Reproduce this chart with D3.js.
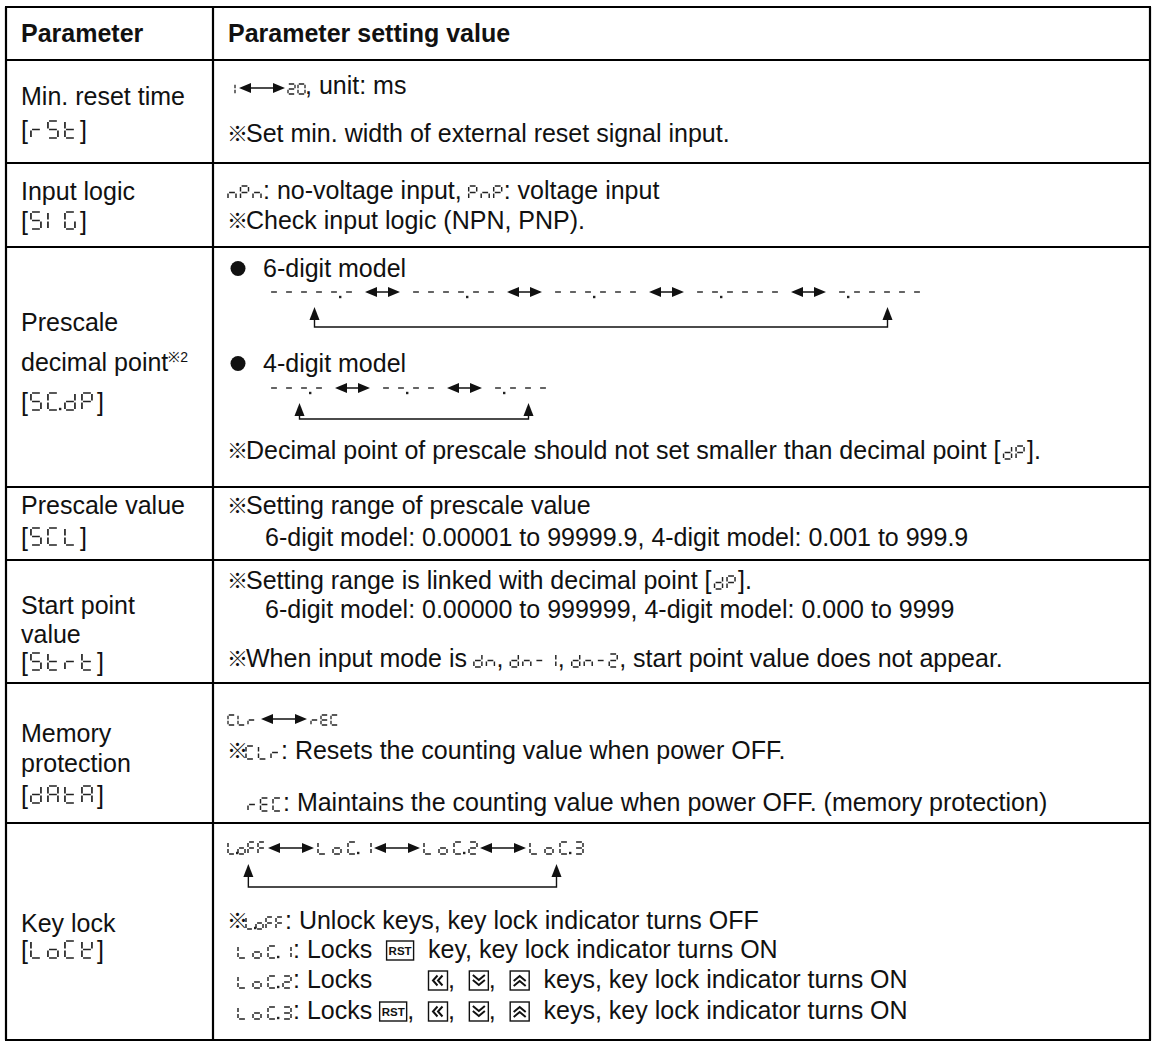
<!DOCTYPE html>
<html><head><meta charset="utf-8">
<script src="https://cdn.jsdelivr.net/npm/d3@7"></script>
<style>body{margin:0;background:#fff}</style>
</head><body><svg id="c" width="1156" height="1044"></svg>
<script>
// ---------------- data ----------------
const headers = ["Parameter", "Parameter setting value"];
const paramNames = [["Min. reset time"],["Input logic"],["Prescale","decimal point"],["Prescale value"],["Start point","value"],["Memory","protection"],["Key lock"]];
const paramNoteMarks = ["","","※2","","","",""];
const paramCodes = ["rSt","SIG","SC.dP","SCL","Strt","dAtA","LoCK"];
const dp6 = ["-----.-","----.--","---.---","--.----","-.-----"];
const dp4 = ["---.-","--.--","-.---"];

const S=(s,z)=>({seg:s,sz:z}), A=(n)=>({arrow:n}), G=(n)=>({gap:n}), K=(k,slot)=>({key:k,slot}), BUL={bullet:true};
const settingLines = [
  [ [S('1','S'),G(4),A(46),G(3),S('20','S'),', unit: ms'],
    ['※Set min. width of external reset signal input.'] ],
  [ [S('nPn','M'),G(2),': no-voltage input, ',S('PnP','M'),G(2),': voltage input'],
    ['※Check input logic (NPN, PNP).'] ],
  [ [BUL,'6-digit model'],
    {dash:dp6},
    [BUL,'4-digit model'],
    {dash:dp4},
    ['※Decimal point of prescale should not set smaller than decimal point [',G(3),S('dP','M'),G(3),'].'] ],
  [ ['※Setting range of prescale value'],
    ['6-digit model: 0.00001 to 99999.9, 4-digit model: 0.001 to 999.9'] ],
  [ ['※Setting range is linked with decimal point [',G(3),S('dP','M'),G(3),'].'],
    ['6-digit model: 0.00000 to 999999, 4-digit model: 0.000 to 9999'],
    ['※When input mode is ',S('dn','M'),G(2),', ',S('dn-1','M'),G(2),', ',S('dn-2','M'),G(2),', start point value does not appear.'] ],
  [ [S('CLr','S'),G(6),A(46),G(4),S('rEC','S')],
    ['※',S('CLr','M'),G(2),': Resets the counting value when power OFF.'],
    [S('rEC','M'),G(2),': Maintains the counting value when power OFF. (memory protection)'] ],
  [ {chain:[S('L.oFF','C'),G(3),A(46),G(4),S('LoC.1','W'),G(3),A(46),G(4),S('LoC.2','W'),G(3),A(46),G(4),S('LoC.3','W')]},
    ['※',S('L.oFF','C'),G(2),': Unlock keys, key lock indicator turns OFF'],
    [S('LoC.1','W'),G(2),': Locks  ',K('RST','k0'),'  key, key lock indicator turns ON'],
    [S('LoC.2','W'),G(2),': Locks ',K('L','k1'),',  ',K('D','k2'),',  ',K('U','k3'),'  keys, key lock indicator turns ON'],
    [S('LoC.3','W'),G(2),': Locks ',K('RST'),',  ',K('L','k1'),',  ',K('D','k2'),',  ',K('U','k3'),'  keys, key lock indicator turns ON'] ]
];

// ---------------- layout ----------------
const LAY = {
  x0:6, x1:1150, xd:213,
  rows:[7,60,163,247,487,560,683,823,1040],
  leftX:21, rightX:228, fs:25,
  headBase:42,
  leftBase:[[105,139],[200,230],[331,371,411],[514,546],[614,643,671],[742,772,804],[932,959]],
  rightPos:[
    [{x:228,b:94},{x:228,b:142}],
    [{x:228,b:199},{x:228,b:229}],
    [{x:228,b:277},{x:270,b:298,tip:307,line:327},{x:228,b:372},{x:270,b:394,tip:403,line:419},{x:228,b:459}],
    [{x:228,b:514},{x:265,b:546}],
    [{x:228,b:589},{x:265,b:618},{x:228,b:667}],
    [{x:228,b:725},{x:228,b:759},{x:248,b:811}],
    [{x:228,b:854,tip:864,line:887},{x:228,b:929},{x:238,b:958},{x:238,b:988},{x:238,b:1019}]
  ]
};
const SZ = {
  B:{h:17,w:10,pitch:17,sw:1.7},
  M:{h:13,w:8,pitch:12.5,sw:1.45},
  S:{h:10,w:7,pitch:10,sw:1.3},
  W:{h:12,w:8,pitch:15,sw:1.45},
  C:{h:12,w:7,pitch:10,sw:1.45},
  D:{h:12,w:8,pitch:15,sw:1.4}
};
const FONT = '"Liberation Sans", Arial, sans-serif';
const MARKFONT = '"Noto Sans CJK JP", "DejaVu Sans", sans-serif';
const SEGS = {'0':'abcdef','1':'bc','2':'abged','3':'abgcd','5':'afgcd','S':'afgcd','r':'eg','t':'fedg','I':'ef',
  'G':'afedc','n':'ceg','P':'abfge','C':'afed','d':'bcdeg','A':'abcefg','L':'fed','E':'afged','o':'cdeg','F':'afge','K':'bdefg','-':'g'};
const SEGPTS = {a:[[0,0],[1,0]],b:[[1,0],[1,.5]],c:[[1,.5],[1,1]],d:[[0,1],[1,1]],e:[[0,.5],[0,1]],f:[[0,0],[0,.5]],g:[[0,.5],[1,.5]]};

const svg = d3.select('#c');
const ink = '#111', segInk = '#222';
const slots = {};

function txt(g, s, x, y, o={}) {
  return g.append('text').attr('x',x).attr('y',y).attr('font-family',o.font||FONT)
    .attr('font-size',o.fs||LAY.fs).attr('font-weight',o.bold?'bold':'normal')
    .attr('fill',ink).style('white-space','pre').text(s);
}
function drawMark(g, x, base) {
  txt(g, '※', x - 1, base - 1, {fs:21, font:MARKFONT});
  return x + 18;
}
function drawSeg(g, str, x, base, sz) {
  const gg = g.append('g').attr('class','seg');
  gg.append('title').text(str);
  let cx = x, prev = null, end = x;
  const gap = sz.h > 10 ? 1.1 : 0.8;
  for (const ch of str) {
    if (ch === '.') {
      if (prev !== null) gg.append('rect').attr('x',prev+sz.w+1).attr('y',base-2.2).attr('width',2.4).attr('height',2.4).attr('fill',segInk);
      continue;
    }
    if (ch !== ' ') {
      const segs = SEGS[ch] || '';
      const d = segs.split('').map(s => {
        const [[ax,ay],[bx,by]] = SEGPTS[s];
        let x1 = cx+ax*sz.w, y1 = base-sz.h+ay*sz.h, x2 = cx+bx*sz.w, y2 = base-sz.h+by*sz.h;
        if (y1 === y2) { x1 += gap; x2 -= gap; } else { y1 += gap; y2 -= gap; }
        return `M${x1},${y1}L${x2},${y2}`;
      }).join('');
      gg.append('path').attr('d',d).attr('stroke',segInk).attr('stroke-width',sz.sw).attr('fill','none');
    }
    prev = cx; end = cx + sz.w; cx += sz.pitch;
  }
  return end;
}
function drawArrow(g, x, y, len, head=12, hh=5, sw=1.5) {
  g.append('path').attr('d',`M${x+head-1},${y}L${x+len-head+1},${y}`).attr('stroke',ink).attr('stroke-width',sw);
  g.append('path').attr('d',`M${x},${y}L${x+head},${y-hh}L${x+head},${y+hh}Z M${x+len},${y}L${x+len-head},${y-hh}L${x+len-head},${y+hh}Z`).attr('fill',ink);
  return x+len;
}
function drawKey(g, k, x, base) {
  const h = 19, w = k==='RST' ? 27 : 19, y = base-17;
  const gg = g.append('g');
  gg.append('rect').attr('x',x+0.5).attr('y',y).attr('width',w).attr('height',h).attr('fill','none').attr('stroke',ink).attr('stroke-width',1.4);
  if (k==='RST') {
    gg.append('text').attr('x',x+0.5+w/2).attr('y',y+14).attr('text-anchor','middle').attr('font-family',FONT)
      .attr('font-size',11.5).attr('font-weight','bold').attr('fill',ink).text('RST');
  } else {
    const cx = x+0.5+w/2, cy = y+h/2;
    let d;
    if (k==='L') d = `M${cx-0.5},${cy-5}L${cx-5},${cy}L${cx-0.5},${cy+5}M${cx+4.5},${cy-5}L${cx},${cy}L${cx+4.5},${cy+5}`;
    if (k==='D') d = `M${cx-6},${cy-5.5}L${cx},${cy-0.5}L${cx+6},${cy-5.5}M${cx-6},${cy-0.5}L${cx},${cy+4.5}L${cx+6},${cy-0.5}`;
    if (k==='U') d = `M${cx-6},${cy+5.5}L${cx},${cy+0.5}L${cx+6},${cy+5.5}M${cx-6},${cy+0.5}L${cx},${cy-4.5}L${cx+6},${cy+0.5}`;
    gg.append('path').attr('d',d).attr('stroke',ink).attr('stroke-width',2).attr('fill','none');
  }
  return x+w+1;
}
function drawTokens(g, tokens, x, base) {
  let cx = x; const ext = [];
  tokens.forEach(tk => {
    const start = cx;
    if (typeof tk === 'string') {
      let s = tk;
      if (s.startsWith('※')) { cx = drawMark(g, cx, base); s = s.slice(1); }
      if (s.length) { const t = txt(g, s, cx, base); cx += t.node().getComputedTextLength(); }
    } else if (tk.seg) { cx = drawSeg(g, tk.seg, cx, base, SZ[tk.sz]); ext.push([start,cx]); }
    else if (tk.arrow) { cx = drawArrow(g, cx, base-6, tk.arrow); }
    else if (tk.gap) { cx += tk.gap; }
    else if (tk.key) {
      if (tk.slot) { if (slots[tk.slot] !== undefined) cx = Math.max(cx, slots[tk.slot]); else slots[tk.slot] = cx; }
      cx = drawKey(g, tk.key, cx, base);
    }
    else if (tk.bullet) {
      g.append('circle').attr('cx',cx+10).attr('cy',base-8.5).attr('r',7.5).attr('fill',ink);
      cx += 35;
    }
  });
  return ext;
}
function drawBracket(g, xa, xb, tip, line) {
  g.append('path').attr('d',`M${xa},${tip+10}L${xa},${line}L${xb},${line}L${xb},${tip+10}`)
    .attr('stroke',ink).attr('stroke-width',1.4).attr('fill','none');
  [xa,xb].forEach(xx => g.append('path').attr('d',`M${xx},${tip}L${xx-5},${tip+13}L${xx+5},${tip+13}Z`).attr('fill',ink));
}
function drawDashRow(g, groups, pos) {
  let cx = pos.x; const ext = [];
  groups.forEach((grp,i) => {
    const s = cx;
    cx = drawSeg(g, grp, cx, pos.b, SZ.D);
    ext.push([s,cx]);
    if (i < groups.length-1) { cx += 12; cx = drawArrow(g, cx, pos.b-6, 35); cx += 12; }
  });
  const a = ext[0], b = ext[ext.length-1];
  drawBracket(g, (a[0]+a[1])/2 + 3, (b[0]+b[1])/2 + 8, pos.tip, pos.line);
}

// ---------------- table frame ----------------
const frame = svg.append('g');
frame.selectAll('line.h').data(LAY.rows).join('line').attr('class','h')
  .attr('x1',LAY.x0-1).attr('x2',LAY.x1+1).attr('y1',d=>d).attr('y2',d=>d)
  .attr('stroke','#000').attr('stroke-width',2.2);
frame.selectAll('line.v').data([LAY.x0,LAY.xd,LAY.x1]).join('line').attr('class','v')
  .attr('x1',d=>d).attr('x2',d=>d).attr('y1',LAY.rows[0]).attr('y2',LAY.rows[LAY.rows.length-1])
  .attr('stroke','#000').attr('stroke-width',2.2);

// header
svg.append('g').selectAll('text').data(headers).join('text')
  .attr('x',(d,i)=> i===0 ? LAY.leftX : LAY.rightX).attr('y',LAY.headBase)
  .attr('font-family',FONT).attr('font-size',LAY.fs).attr('font-weight','bold').attr('fill',ink).text(d=>d);

// left column
paramNames.forEach((names,i) => {
  const g = svg.append('g').attr('class','param');
  const bases = LAY.leftBase[i];
  names.forEach((n,j) => {
    const t = txt(g, n, LAY.leftX, bases[j]);
    if (j === names.length-1 && paramNoteMarks[i]) {
      const w = t.node().getComputedTextLength();
      txt(g, paramNoteMarks[i], LAY.leftX + w, bases[j]-9, {fs:14});
    }
  });
  const b = bases[bases.length-1];
  const t1 = txt(g, '[', LAY.leftX, b);
  let x = LAY.leftX + t1.node().getComputedTextLength() + 3;
  x = drawSeg(g, paramCodes[i], x, b-1, SZ.B);
  txt(g, ']', x + 5, b);
});

// right column (drawn bottom-up inside a row so aligned key slots come from the longest line)
settingLines.forEach((lines,i) => {
  const g = svg.append('g').attr('class','setting');
  lines.map((ln,j)=>[ln,j]).reverse().forEach(([ln,j]) => {
    const pos = LAY.rightPos[i][j];
    if (Array.isArray(ln)) drawTokens(g, ln, pos.x, pos.b);
    else if (ln.dash) drawDashRow(g, ln.dash, pos);
    else if (ln.chain) {
      const ext = drawTokens(g, ln.chain, pos.x, pos.b);
      const a = ext[0], z = ext[ext.length-1];
      drawBracket(g, a[0] + 0.55*(a[1]-a[0]), (z[0]+z[1])/2, pos.tip, pos.line);
    }
  });
});
</script></body></html>
